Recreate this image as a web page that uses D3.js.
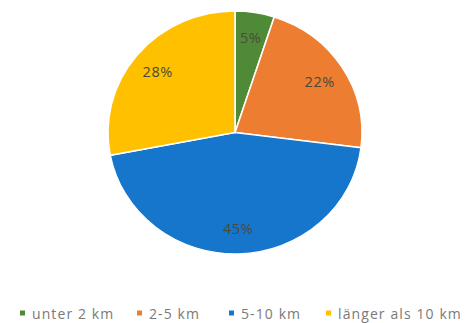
<!DOCTYPE html>
<html><head><meta charset="utf-8">
<script src="https://cdn.jsdelivr.net/npm/d3@7"></script>
<style>body{margin:0;background:#fff}svg{display:block}</style>
</head><body>
<svg id="c" width="466" height="323"></svg>
<script>
const categories = ["unter 2 km", "2-5 km", "5-10 km", "länger als 10 km"];
const values = [5, 22, 45, 28];
const labels = ["5%", "22%", "45%", "28%"];
const colors = ["#4f8a37", "#ed7d31", "#1676cc", "#ffc000"];

const svg = d3.select("#c");
const cx = 235, cy = 132.5, r = 121.5, sx = 127 / 121.5;
const g = svg.append("g").attr("transform", `translate(${cx},${cy}) scale(${sx},1)`);
const pie = d3.pie().sort(null).value(d => d)(values);
const arc = d3.arc().innerRadius(0).outerRadius(r);
g.selectAll("path").data(pie).join("path")
  .attr("d", arc).attr("fill", (d, i) => colors[i])
  .attr("stroke", "#fff").attr("stroke-width", 1.5);
const larc = d3.arc().innerRadius(96).outerRadius(96);
svg.append("g").attr("transform", `translate(${cx},${cy})`)
  .selectAll("text").data(pie).join("text")
  .attr("x", d => larc.centroid(d)[0] * sx)
  .attr("y", d => larc.centroid(d)[1])
  .attr("text-anchor", "middle").attr("dominant-baseline", "central")
  .attr("font-family", "Open Sans, sans-serif").attr("font-size", 14.5)
  .attr("letter-spacing", 0.6)
  .attr("fill", "#4a4a3a").text((d, i) => labels[i]);

const legX = [20, 137, 229, 326];
const lg = svg.append("g").attr("transform", "translate(0,313)");
categories.forEach((c, i) => {
  lg.append("rect").attr("x", legX[i]).attr("y", -2.5).attr("width", 5).attr("height", 5).attr("fill", colors[i]);
  lg.append("text").attr("x", legX[i] + 12).attr("y", 0).attr("dominant-baseline", "central")
    .attr("font-family", "Open Sans, sans-serif").attr("font-size", 14)
    .attr("letter-spacing", 1.1).attr("fill", "#7a7a7a").text(c);
});
</script>
</body></html>
